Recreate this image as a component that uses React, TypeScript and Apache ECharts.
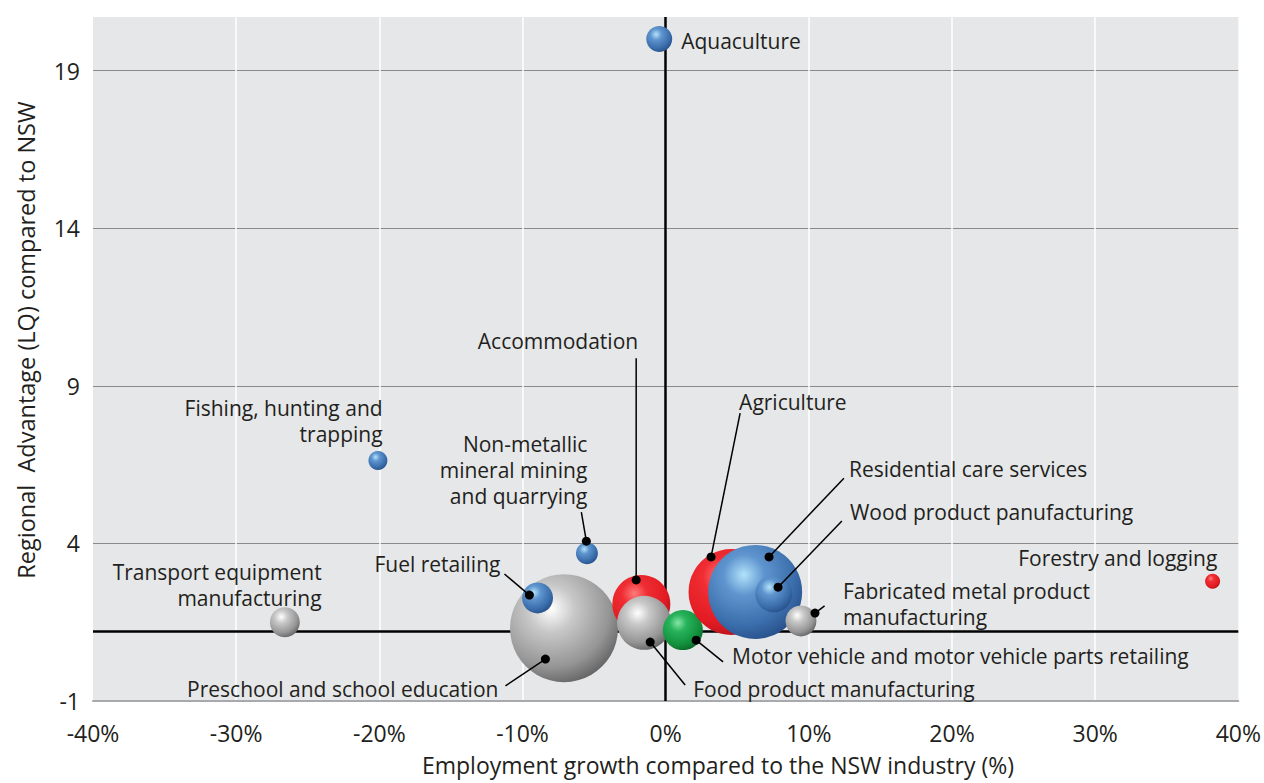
import React, { useEffect, useRef } from "react";
import * as echarts from "echarts";

// ---- Data ----
const industries = [
  "Transport equipment manufacturing",
  "Fishing, hunting and trapping",
  "Aquaculture",
  "Non-metallic mineral mining and quarrying",
  "Preschool and school education",
  "Fuel retailing",
  "Accommodation",
  "Food product manufacturing",
  "Motor vehicle and motor vehicle parts retailing",
  "Agriculture",
  "Residential care services",
  "Wood product panufacturing",
  "Fabricated metal product manufacturing",
  "Forestry and logging",
];
// Employment growth compared to the NSW industry (%)
const growth = [-26.6, -20.1, -0.45, -5.5, -7.1, -8.95, -1.7, -1.5, 1.2, 4.6, 6.25, 7.55, 9.45, 38.2];
// Regional advantage (LQ) compared to NSW
const lq = [1.5, 6.63, 20.0, 3.69, 1.31, 2.27, 2.08, 1.48, 1.25, 2.46, 2.46, 2.4, 1.54, 2.8];
// Bubble size (relative employment)
const bubbleSize = [30, 19, 26, 22, 108, 31, 58, 54, 40, 86, 94, 37, 31, 15];
const colourGroup = ["grey", "blue", "blue", "blue", "grey", "blue", "red", "grey", "green", "red", "blue", "blue", "grey", "red"];

// Annotation texts
const labelText = [
  "Transport equipment\nmanufacturing",
  "Fishing, hunting and\ntrapping",
  "Aquaculture",
  "Non-metallic\nmineral mining\nand quarrying",
  "Preschool and school education",
  "Fuel retailing",
  "Accommodation",
  "Food product manufacturing",
  "Motor vehicle and motor vehicle parts retailing",
  "Agriculture",
  "Residential care services",
  "Wood product panufacturing",
  "Fabricated metal product\nmanufacturing",
  "Forestry and logging",
];
const labelAlign = ["right", "right", "left", "right", "right", "right", "right", "left", "left", "left", "left", "left", "left", "right"];
// label anchor (data coords)
const labelX = [-24.03, -19.77, 1.08, -5.47, -11.68, -11.54, -1.92, 1.92, 4.64, 5.13, 12.8, 12.87, 12.38, 38.53];
const labelY = [2.68, 7.88, 19.93, 6.32, -0.62, 3.34, 10.41, -0.62, 0.43, 8.48, 6.36, 4.99, 2.09, 3.53];
// leader line start (data coords), null = no leader
const leaderStart: ([number, number] | null)[] = [
  null,
  null,
  null,
  [-5.89, 4.99],
  [-11.19, -0.52],
  [-11.26, 3.03],
  [-2.06, 9.87],
  [1.36, -0.49],
  [4.01, 0.24],
  [5.2, 8.13],
  [12.45, 6.07],
  [12.31, 4.71],
  [11.1, 2.02],
  null,
];
// leader dot (data coords)
const leaderDot: ([number, number] | null)[] = [
  null,
  null,
  null,
  [-5.54, 4.07],
  [-8.4, 0.33],
  [-9.52, 2.36],
  [-2.06, 2.84],
  [-1.08, 0.87],
  [2.13, 0.93],
  [3.17, 3.57],
  [7.22, 3.57],
  [7.85, 2.61],
  [10.43, 1.79],
  null,
];

const xTicks = [-40, -30, -20, -10, 0, 10, 20, 30, 40];
const yTicks = [-1, 4, 9, 14, 19];
const lqBaseline = 1.2;

const FONT = "'Open Sans', 'DejaVu Sans', sans-serif";

function sphere(group: string) {
  const stops: Record<string, string[]> = {
    blue: ["#b2e2fa", "#5f95cf", "#3a6dab", "#28508a"],
    grey: ["#ffffff", "#c8c8c8", "#959595", "#646464"],
    red: ["#ff7b7b", "#ef2d33", "#e31b23", "#b3131a"],
    green: ["#86e6a4", "#27b35b", "#13913d", "#0b682a"],
  };
  const s = stops[group];
  return new echarts.graphic.RadialGradient(0.38, 0.32, 0.72, [
    { offset: 0, color: s[0] },
    { offset: 0.3, color: s[1] },
    { offset: 0.75, color: s[2] },
    { offset: 1, color: s[3] },
  ]);
}

export default function App() {
  const ref = useRef<HTMLDivElement>(null);
  useEffect(() => {
    document.body.style.margin = "0";
    const chart = echarts.init(ref.current!, null, { renderer: "svg" });
    const bubbles = industries.map((name, i) => ({
      name,
      value: [growth[i], lq[i], bubbleSize[i]],
      itemStyle: { color: sphere(colourGroup[i]), opacity: 1 },
    }));
    const option: any = {
      animation: false,
      backgroundColor: "#ffffff",
      grid: { left: 93, right: 24, top: 17, bottom: 82, show: true, backgroundColor: "#e6e7e8", borderWidth: 0 },
      xAxis: {
        type: "value",
        min: xTicks[0],
        max: xTicks[xTicks.length - 1],
        interval: 10,
        axisLine: { show: true, onZero: false, lineStyle: { color: "#a7a9ac", width: 2 } },
        axisTick: { show: false },
        axisLabel: { formatter: (v: number) => v + "%", fontSize: 23, fontFamily: FONT, color: "#231f20", margin: 20 },
        splitLine: { show: true, showMinLine: false, showMaxLine: false, lineStyle: { color: "#ffffff", width: 1.5 } },
      },
      yAxis: {
        type: "value",
        min: yTicks[0],
        max: 20.7,
        interval: 5,
        axisLine: { show: false },
        axisTick: { show: false },
        axisLabel: { fontSize: 23, fontFamily: FONT, color: "#231f20", margin: 13, showMaxLabel: false },
        splitLine: { show: true, showMinLine: false, showMaxLine: false, lineStyle: { color: "#8a8a8a", width: 1 } },
      },
      graphic: [
        {
          type: "text",
          x: 26,
          y: 340,
          rotation: Math.PI / 2,
          style: {
            text: "Regional  Advantage (LQ) compared to NSW",
            fontSize: 23.5,
            fontFamily: FONT,
            fill: "#231f20",
            align: "center",
            verticalAlign: "middle",
          },
        },
        {
          type: "text",
          x: 718,
          y: 765,
          style: {
            text: "Employment growth compared to the NSW industry (%)",
            fontSize: 23,
            fontFamily: FONT,
            fill: "#231f20",
            align: "center",
            verticalAlign: "middle",
          },
        },
      ],
      series: [
        {
          type: "line",
          data: [],
          silent: true,
          z: 1,
          markLine: {
            silent: true,
            symbol: "none",
            z: 1,
            label: { show: false },
            lineStyle: { color: "#000000", width: 2.5, type: "solid" },
            data: [{ xAxis: 0 }, { yAxis: lqBaseline }],
          },
        },
        {
          type: "scatter",
          z: 3,
          data: bubbles,
          symbolSize: (v: number[]) => v[2],
          silent: true,
        },
        {
          type: "custom",
          z: 4,
          silent: true,
          clip: false,
          data: industries.map((_, i) => [labelX[i], labelY[i]]),
          encode: { x: 0, y: 1 },
          renderItem: (params: any, api: any) => {
            const i = params.dataIndex;
            const t = api.coord([labelX[i], labelY[i]]);
            const children: any[] = [];
            const s = leaderStart[i];
            const d = leaderDot[i];
            if (s && d) {
              const a = api.coord(s);
              const b = api.coord(d);
              children.push({
                type: "line",
                shape: { x1: a[0], y1: a[1], x2: b[0], y2: b[1] },
                style: { stroke: "#000000", lineWidth: 1.5 },
              });
              children.push({
                type: "circle",
                shape: { cx: b[0], cy: b[1], r: 4.5 },
                style: { fill: "#000000" },
              });
            }
            children.push({
              type: "text",
              style: {
                text: labelText[i],
                x: t[0],
                y: t[1],
                align: labelAlign[i],
                verticalAlign: "middle",
                fontSize: 21,
                lineHeight: 26,
                fontFamily: FONT,
                fill: "#231f20",
              },
            });
            return { type: "group", children };
          },
        },
      ],
    };
    chart.setOption(option);
    return () => chart.dispose();
  }, []);
  return <div ref={ref} style={{ position: "absolute", left: 0, top: 0, width: 1264, height: 783 }} />;
}
